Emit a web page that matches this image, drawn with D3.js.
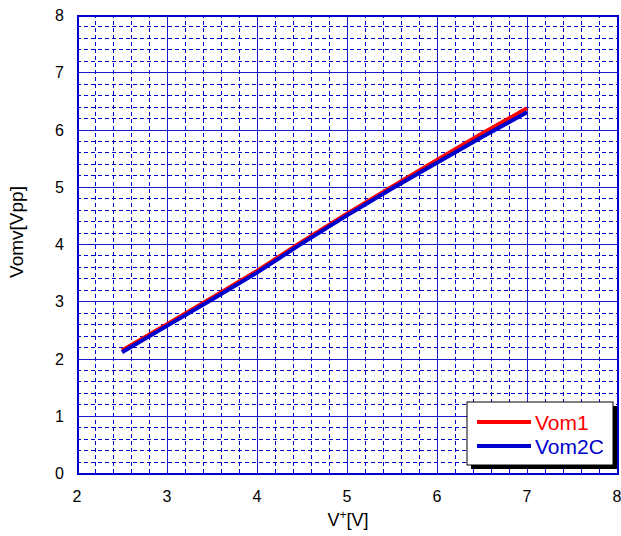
<!DOCTYPE html>
<head>
  <meta charset="utf-8">
  <script src="https://d3js.org/d3.v7.min.js"></script>
  <style>
    body { margin: 0; background: #fff; }
    svg { width: 621px; height: 536px; font-family: "Liberation Sans", Arial, sans-serif; }
  </style>
</head>
<body>
  <svg></svg>
  <script>
    // data
    const vplus = [2.5, 3, 3.5, 4, 4.5, 5, 5.5, 6, 6.5, 7];
    const vom1  = [2.14, 2.6, 3.06, 3.53, 4.04, 4.53, 5.0, 5.47, 5.93, 6.37];
    const vom2c = [2.11, 2.57, 3.03, 3.5, 4.01, 4.5, 4.97, 5.42, 5.87, 6.3];
    const xTicks = [2, 3, 4, 5, 6, 7, 8];
    const yTicks = [0, 1, 2, 3, 4, 5, 6, 7, 8];
    const seriesNames = ['Vom1', 'Vom2C'];
    const seriesColors = ['#ff0000', '#0000cc'];

    const margin = {left: 77, top: 15, right: 4, bottom: 63};
    const W = 621, H = 536;
    const svg = d3.select('svg');

    const x = d3.scaleLinear().domain([2, 8]).range([margin.left, W - margin.right]);
    const y = d3.scaleLinear().domain([0, 8]).range([H - margin.bottom, margin.top]);
    const px = v => Math.round(v) + 0.5;

    const grid = svg.append('g').attr('shape-rendering', 'crispEdges');
    // minor grid every 0.2
    const minorX = d3.range(2, 8.001, 0.2).filter(v => Math.abs(v - Math.round(v)) > 0.01);
    const minorY = d3.range(0, 8.001, 0.2).filter(v => Math.abs(v - Math.round(v)) > 0.01);
    grid.selectAll('.mx').data(minorX).enter().append('line')
      .attr('x1', d => px(x(d))).attr('x2', d => px(x(d)))
      .attr('y1', y(0)).attr('y2', y(8))
      .attr('stroke', '#0000cc').attr('stroke-width', 1)
      .attr('stroke-dasharray', '4,3');
    grid.selectAll('.my').data(minorY).enter().append('line')
      .attr('y1', d => px(y(d))).attr('y2', d => px(y(d)))
      .attr('x1', x(2)).attr('x2', x(8))
      .attr('stroke', '#0000cc').attr('stroke-width', 1)
      .attr('stroke-dasharray', '4,3');
    // major grid
    grid.selectAll('.Mx').data(xTicks).enter().append('line')
      .attr('x1', d => px(x(d))).attr('x2', d => px(x(d)))
      .attr('y1', y(0)).attr('y2', y(8))
      .attr('stroke', '#1a1acc').attr('stroke-width', 1);
    grid.selectAll('.My').data(yTicks).enter().append('line')
      .attr('y1', d => px(y(d))).attr('y2', d => px(y(d)))
      .attr('x1', x(2)).attr('x2', x(8))
      .attr('stroke', '#1a1acc').attr('stroke-width', 1);
    grid.append('rect')
      .attr('x', px(x(2))).attr('y', px(y(8)))
      .attr('width', Math.round(x(8) - x(2))).attr('height', Math.round(y(0) - y(8)))
      .attr('fill', 'none').attr('stroke', '#0000cc').attr('stroke-width', 2);

    // tick labels
    svg.selectAll('.xt').data(xTicks).enter().append('text')
      .attr('x', d => x(d)).attr('y', y(0) + 29)
      .attr('text-anchor', 'middle').attr('font-size', 16)
      .text(d => d);
    svg.selectAll('.yt').data(yTicks).enter().append('text')
      .attr('x', x(2) - 13).attr('y', d => y(d) + 6)
      .attr('text-anchor', 'end').attr('font-size', 16)
      .text(d => d);

    // axis titles
    const xt = svg.append('text')
      .attr('x', 348).attr('y', 526)
      .attr('text-anchor', 'middle').attr('font-size', 18);
    xt.append('tspan').text('V');
    xt.append('tspan').attr('dy', -7).attr('font-size', 12).text('+');
    xt.append('tspan').attr('dy', 7).text('[V]');
    svg.append('text')
      .attr('transform', 'translate(23,232) rotate(-90)')
      .attr('text-anchor', 'middle').attr('font-size', 19)
      .text('Vomv[Vpp]');

    // lines
    const line = d3.line().x(d => x(d[0])).y(d => y(d[1]));
    [vom1, vom2c].forEach((vals, i) => {
      svg.append('path')
        .datum(vplus.map((v, j) => [v, vals[j]]))
        .attr('d', line)
        .attr('fill', 'none')
        .attr('stroke', seriesColors[i])
        .attr('stroke-width', 4);
    });

    // legend
    const lg = svg.append('g').attr('transform', 'translate(467,402)');
    lg.append('rect').attr('x', 4).attr('y', 4).attr('width', 146).attr('height', 63).attr('fill', '#000');
    lg.append('rect').attr('width', 146).attr('height', 63)
      .attr('fill', '#fff').attr('stroke', '#000').attr('stroke-width', 1);
    seriesNames.forEach((name, i) => {
      const yy = 20 + i * 24;
      lg.append('line').attr('x1', 10).attr('x2', 64).attr('y1', yy).attr('y2', yy)
        .attr('stroke', seriesColors[i]).attr('stroke-width', 4);
      lg.append('text').attr('x', 68).attr('y', yy + 8)
        .attr('font-size', 21).attr('fill', seriesColors[i]).text(name);
    });
  </script>
</body>
